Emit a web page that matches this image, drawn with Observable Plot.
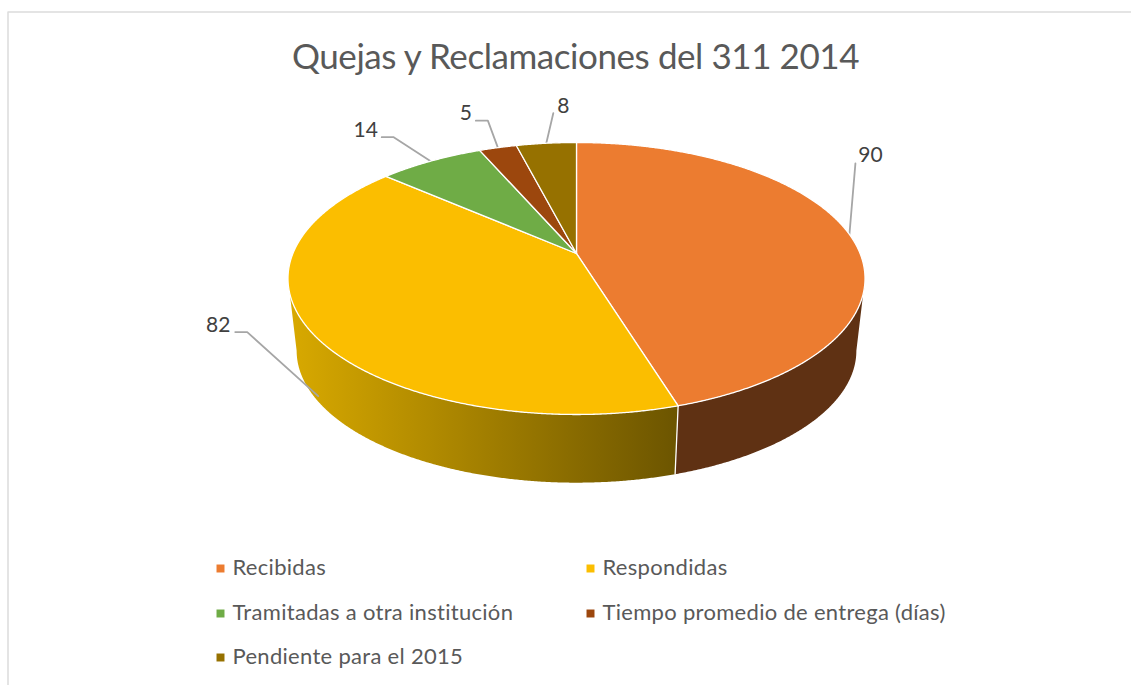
<!DOCTYPE html>
<html>
<head>
<meta charset="utf-8">
<script src="https://cdn.jsdelivr.net/npm/d3@7"></script>
<script src="https://cdn.jsdelivr.net/npm/@observablehq/plot@0.6"></script>
<style>
html,body{margin:0;padding:0;background:#fff}
svg{display:block}
</style>
</head>
<body>
<div id="chart"></div>
<script>
const chartTitle = "Quejas y Reclamaciones del 311 2014";
const categories = ["Recibidas", "Respondidas", "Tramitadas a otra institución", "Tiempo promedio de entrega (días)", "Pendiente para el 2015"];
const values = [90, 82, 14, 5, 8];
const colors = ["#ec7c30", "#fbbe00", "#6fac46", "#9c470d", "#967100"];

// Layout of the tilted pie (page pixels)
const FONT = "Lato, 'Open Sans', sans-serif";
const cx = 576, cy = 253, A = 283.6, B = 131.4, persp = 0.1838;
const baseScale = 0.97, baseCy = 326;
// Leader-line bends and label placement, relative to each slice's rim anchor
const leaderBends = [[[6, -71]], [[-65, -1], [-77, -1]], [[-37, -24], [-49, -24]], [[-10, -27], [-22, -27]], [[7, -30]]];
const leaderStart = [[0, 0], [6, 63], [0, 0], [0, 0], [0, 0]];
const labelOffset = [[21, -79], [-94, -8], [-65, -31], [-32, -34], [17, -37]];

const total = d3.sum(values);
const cum = d3.cumsum(values);
const angle = (v) => (v / total) * 2 * Math.PI;
function topPt(t) {
  const w = 1 + persp * Math.cos(t);
  return [cx + (A * Math.sin(t)) / w, cy - (B * Math.cos(t)) / w];
}
function basePt(t) {
  const w = 1 + persp * Math.cos(t);
  return [cx + (baseScale * A * Math.sin(t)) / w, baseCy - (baseScale * B * Math.cos(t)) / w];
}
function arc(fn, t0, t1) {
  const n = Math.max(2, Math.ceil(Math.abs(t1 - t0) / 0.005));
  return d3.range(n + 1).map((i) => fn(t0 + ((t1 - t0) * i) / n));
}
const slices = values.map((v, i) => {
  const t0 = angle(cum[i] - v), t1 = angle(cum[i]);
  return [[cx, cy], ...arc(topPt, t0, t1), [cx, cy]];
});
const tR = Math.acos(-persp), tL = 2 * Math.PI - tR;
function sideFace(t0, t1) {
  const pts = [...arc(topPt, t0, t1), ...arc(basePt, t1, t0)];
  pts.push(pts[0]);
  return pts;
}
const split = angle(values[0]);
const orangeSide = sideFace(tR, split);
const yellowSide = sideFace(split, tL);

const anchors = values.map((v, i) => topPt(angle(cum[i] - v / 2)));
const leaders = anchors.map((a, i) => [leaderStart[i], ...leaderBends[i]].map(([dx, dy]) => [a[0] + dx, a[1] + dy]));
const dataLabels = anchors.map((a, i) => ({ x: a[0] + labelOffset[i][0], y: a[1] + labelOffset[i][1], text: String(values[i]) }));

const legendCols = [220, 590], legendRows = [567, 612, 656];
const legendItems = categories.map((c, i) => ({
  x: legendCols[i % 2], y: legendRows[Math.floor(i / 2)], text: c, color: colors[i]
}));

const gradient = () => {
  const defs = d3.create("svg:defs");
  const g = defs.append("linearGradient").attr("id", "sideGold")
    .attr("gradientUnits", "userSpaceOnUse")
    .attr("x1", 290).attr("x2", 680).attr("y1", 0).attr("y2", 0);
  g.append("stop").attr("offset", "0").attr("stop-color", "#d8a900");
  g.append("stop").attr("offset", "1").attr("stop-color", "#6b5400");
  return defs.node();
};
const X = (d) => d[0], Y = (d) => d[1];

const plot = Plot.plot({
  width: 1131, height: 685,
  marginTop: 0, marginRight: 0, marginBottom: 0, marginLeft: 0,
  x: { domain: [0, 1131], range: [0, 1131], axis: null },
  y: { domain: [0, 685], range: [0, 685], axis: null },
  style: { background: "#fff" },
  marks: [
    gradient,
    // chart frame
    Plot.line([[1131, 11.5], [7.5, 11.5], [7.5, 685]], { x: X, y: Y, stroke: "#dcdcdc", strokeWidth: 1.5 }),
    // side faces
    Plot.line(orangeSide, { x: X, y: Y, fill: "#5f3113", stroke: "none" }),
    Plot.line(yellowSide, { x: X, y: Y, fill: "url(#sideGold)", stroke: "none" }),
    Plot.line([topPt(split), basePt(split)], { x: X, y: Y, stroke: "#fff", strokeWidth: 1.3 }),
    // leader lines
    ...leaders.map((l) => Plot.line(l, { x: X, y: Y, stroke: "#a6a6a6", strokeWidth: 1.8, curve: "linear" })),
    // top slices
    ...slices.map((s, i) => Plot.line(s, { x: X, y: Y, fill: colors[i], stroke: "#fff", strokeWidth: 1.3, strokeLinejoin: "round" })),
    // data labels
    Plot.text(dataLabels, { x: "x", y: "y", text: "text", fontSize: 21, fill: "#404040", fontFamily: FONT, textAnchor: "middle", lineAnchor: "middle" }),
    // title
    Plot.text([chartTitle], { x: () => 575, y: () => 57, fontSize: 35, fill: "#595959", fontFamily: FONT, textAnchor: "middle", lineAnchor: "middle" }),
    // legend
    Plot.dot(legendItems.map((d) => ({ ...d, y: d.y + 1 })), { x: "x", y: "y", fill: "color", symbol: "square", r: 4.5 }),
    Plot.text(legendItems, { x: (d) => d.x + 12, y: "y", text: "text", fontSize: 22, fill: "#595959", fontFamily: FONT, textAnchor: "start", lineAnchor: "middle" })
  ]
});
d3.select(plot).selectAll("text").each(function () {
  const s = this.textContent;
  if (s === chartTitle) this.style.letterSpacing = "-0.43px";
  else if (categories.includes(s)) this.style.letterSpacing = "0.3px";
});
document.getElementById("chart").appendChild(plot);
</script>
</body>
</html>
